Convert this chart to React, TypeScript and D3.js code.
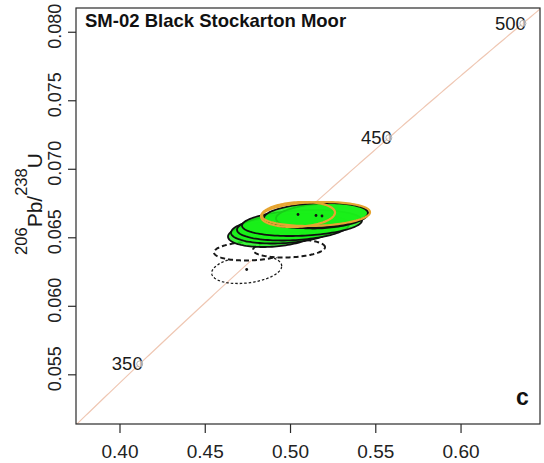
import React, { useEffect, useRef } from 'react';
import * as d3 from 'd3';

const W = 544;
const H = 463;
const plot = { left: 76, right: 540, top: 8, bottom: 424 };

// axis limits and ticks
const xDomain = [0.3742, 0.6463];
const yDomain = [0.05141, 0.08177];
const xTicks = [0.4, 0.45, 0.5, 0.55, 0.6];
const yTicks = [0.055, 0.06, 0.065, 0.07, 0.075, 0.08];

// concordia age markers (Ma) and decay constants (1/yr)
const markerAges = [350, 400, 450, 500];
const lambda238 = 1.55125e-10;
const lambda235 = 9.8485e-10;

// zircon analyses: 207Pb/235U, 206Pb/238U, 2-sigma half widths, error correlation
const ellX = [0.4743, 0.47682, 0.49911, 0.48914, 0.49559, 0.50145, 0.50673, 0.51846, 0.51494, 0.50439, 0.51494];
const ellY = [0.062686, 0.064036, 0.064218, 0.065276, 0.065568, 0.065787, 0.066079, 0.06659, 0.066627, 0.0667, 0.066736];
const ellSX = [0.02052, 0.0217, 0.02111, 0.0258, 0.03049, 0.03284, 0.03519, 0.02698, 0.03049, 0.0217, 0.03167];
const ellSY = [0.001022, 0.000693, 0.000657, 0.000949, 0.000985, 0.000985, 0.000949, 0.000912, 0.000912, 0.000912, 0.000876];
const ellRho = [0.25, 0.15, 0.15, 0.2, 0.2, 0.2, 0.2, 0.2, 0.2, 0.15, 0.15];
const ellKind = ['dotted', 'dashed', 'dashed', 'green', 'green', 'green', 'green', 'green', 'green', 'orange', 'orange'];
const ellDot = [true, false, false, false, false, false, false, true, true, true, false];

const title = 'SM-02 Black Stockarton Moor';
const panelLetter = 'c';

const FONT = 'Liberation Sans, Arial, Helvetica, sans-serif';

export default function App() {
  const ref = useRef<SVGSVGElement | null>(null);

  useEffect(() => {
    const svg = d3.select(ref.current);
    svg.selectAll('*').remove();

    const x = d3.scaleLinear().domain(xDomain).range([plot.left, plot.right]);
    const y = d3.scaleLinear().domain(yDomain).range([plot.bottom, plot.top]);

    svg
      .append('defs')
      .append('clipPath')
      .attr('id', 'plotClip')
      .append('rect')
      .attr('x', plot.left)
      .attr('y', plot.top)
      .attr('width', plot.right - plot.left)
      .attr('height', plot.bottom - plot.top);

    const g = svg.append('g').attr('clip-path', 'url(#plotClip)');

    // concordia curve
    const ages = d3.range(300, 561, 1);
    const conc = (t: number) => [Math.exp(lambda235 * t * 1e6) - 1, Math.exp(lambda238 * t * 1e6) - 1];
    const line = d3
      .line<number>()
      .x((t) => x(conc(t)[0]))
      .y((t) => y(conc(t)[1]));
    g.append('path')
      .attr('d', line(ages) as string)
      .attr('fill', 'none')
      .attr('stroke', '#efc7b3')
      .attr('stroke-width', 1.2);

    // age markers
    markerAges.forEach((a) => {
      const [cx, cy] = conc(a);
      const px = x(cx);
      const py = y(cy);
      g.append('text')
        .attr('x', px + 3)
        .attr('y', py + 6.5)
        .attr('text-anchor', 'end')
        .attr('font-family', FONT)
        .attr('font-size', 18.5)
        .attr('fill', '#1a1a1a')
        .text(String(a));
      g.append('circle')
        .attr('cx', px)
        .attr('cy', py)
        .attr('r', 3)
        .attr('fill', 'white')
        .attr('fill-opacity', 0.6)
        .attr('stroke', '#b0b0b0')
        .attr('stroke-width', 1);
    });

    // error ellipses
    const ellipsePath = (i: number) => {
      const pts = d3.range(0, 120).map((k) => {
        const th = (k / 120) * 2 * Math.PI;
        const r = ellRho[i];
        const dx = ellSX[i] * Math.cos(th);
        const dy = ellSY[i] * (r * Math.cos(th) + Math.sqrt(1 - r * r) * Math.sin(th));
        return [x(ellX[i] + dx), y(ellY[i] + dy)] as [number, number];
      });
      return d3.line().curve(d3.curveLinearClosed)(pts) as string;
    };

    ellX.forEach((_, i) => {
      const p = g.append('path').attr('d', ellipsePath(i));
      const kind = ellKind[i];
      if (kind === 'dotted') {
        p.attr('fill', 'none').attr('stroke', '#1a1a1a').attr('stroke-width', 1.3).attr('stroke-dasharray', '2.5,2');
      } else if (kind === 'dashed') {
        p.attr('fill', 'white').attr('stroke', '#1a1a1a').attr('stroke-width', 2).attr('stroke-dasharray', '5,3');
      } else if (kind === 'green') {
        p.attr('fill', '#19f019').attr('fill-opacity', 0.85).attr('stroke', '#101010').attr('stroke-width', 1.8);
      } else {
        p.attr('fill', 'none').attr('stroke', '#e6a532').attr('stroke-width', 2.2);
      }
    });

    ellX.forEach((_, i) => {
      if (!ellDot[i]) return;
      g.append('circle').attr('cx', x(ellX[i])).attr('cy', y(ellY[i])).attr('r', 1.4).attr('fill', '#111');
    });

    // frame
    svg
      .append('rect')
      .attr('x', plot.left)
      .attr('y', plot.top)
      .attr('width', plot.right - plot.left)
      .attr('height', plot.bottom - plot.top)
      .attr('fill', 'none')
      .attr('stroke', '#2a2a2a')
      .attr('stroke-width', 1.2);

    // x axis
    xTicks.forEach((v) => {
      svg
        .append('line')
        .attr('x1', x(v))
        .attr('x2', x(v))
        .attr('y1', plot.bottom)
        .attr('y2', plot.bottom + 9)
        .attr('stroke', '#2a2a2a')
        .attr('stroke-width', 1.2);
      svg
        .append('text')
        .attr('x', x(v))
        .attr('y', 458)
        .attr('text-anchor', 'middle')
        .attr('font-family', FONT)
        .attr('font-size', 19)
        .attr('fill', '#222')
        .text(d3.format('.2f')(v));
    });

    // y axis
    yTicks.forEach((v) => {
      svg
        .append('line')
        .attr('x1', plot.left - 8)
        .attr('x2', plot.left)
        .attr('y1', y(v))
        .attr('y2', y(v))
        .attr('stroke', '#2a2a2a')
        .attr('stroke-width', 1.2);
      svg
        .append('text')
        .attr('transform', `translate(61,${y(v) - 6}) rotate(-90)`)
        .attr('text-anchor', 'middle')
        .attr('font-family', FONT)
        .attr('font-size', 18)
        .attr('fill', '#222')
        .text(d3.format('.3f')(v));
    });

    // y axis title with isotope superscripts
    const yt = svg
      .append('text')
      .attr('transform', `translate(42,${(plot.top + plot.bottom) / 2 - 12}) rotate(-90)`)
      .attr('text-anchor', 'middle')
      .attr('font-family', FONT)
      .attr('fill', '#1a1a1a');
    yt.append('tspan').attr('font-size', 16.5).attr('dy', -15).text('206');
    yt.append('tspan').attr('font-size', 21).attr('dy', 15).text('Pb/');
    yt.append('tspan').attr('font-size', 16.5).attr('dy', -15).text('238');
    yt.append('tspan').attr('font-size', 21).attr('dy', 15).text('U');

    // title and panel letter
    svg
      .append('text')
      .attr('x', 85)
      .attr('y', 27)
      .attr('font-family', FONT)
      .attr('font-weight', 'bold')
      .attr('font-size', 18.5)
      .attr('fill', '#111')
      .text(title);
    svg
      .append('text')
      .attr('x', 516)
      .attr('y', 405)
      .attr('font-family', FONT)
      .attr('font-weight', 'bold')
      .attr('font-size', 23)
      .attr('fill', '#111')
      .text(panelLetter);
  }, []);

  return (
    <svg
      ref={ref}
      width={W}
      height={H}
      style={{ position: 'absolute', left: 0, top: 0, background: 'white' }}
    />
  );
}
